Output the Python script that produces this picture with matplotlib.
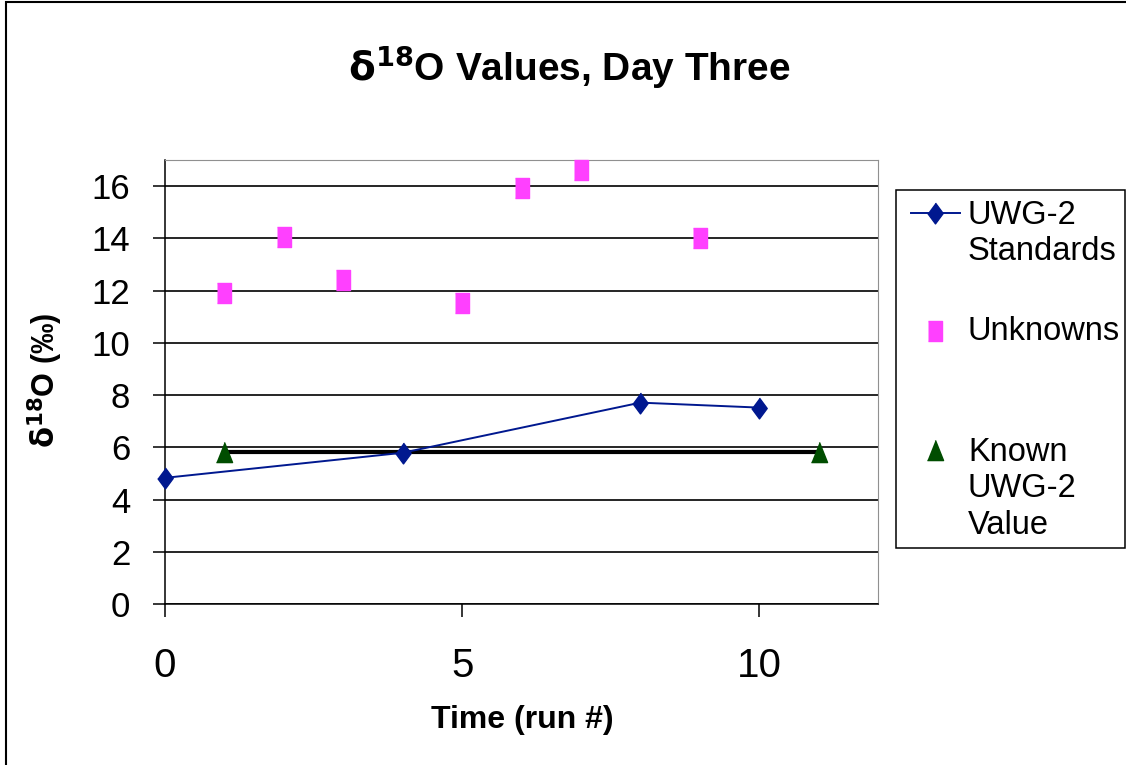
import matplotlib
matplotlib.use("Agg")
import matplotlib.pyplot as plt
from matplotlib.lines import Line2D
from matplotlib.patches import Rectangle

plt.rcParams['font.family'] = ['Liberation Sans', 'DejaVu Sans']

# dados
std_run = [0, 4, 8, 10]
std_val = [4.83, 5.79, 7.71, 7.52]

unk_run = [1, 2, 3, 5, 6, 7, 9]
unk_val = [11.9, 14.04, 12.39, 11.51, 15.92, 16.6, 14.0]

known_run = [1, 11]
known_val = [5.83, 5.83]

W, H = 1126, 765


def px(x, y):
    """pixel -> fracao da figura"""
    return x / W, 1 - y / H


# marcadores um pouco estreitos como no original
diamond = [(0, 0.5), (0.37, 0), (0, -0.5), (-0.37, 0)]
square = [(-0.37, -0.5), (0.37, -0.5), (0.37, 0.5), (-0.37, 0.5)]
triangle = [(0, 0.5), (0.4, -0.5), (-0.4, -0.5)]

navy = "#00188F"
pink = "#FF40FF"
green = "#004D00"
MS = 14.5

fig = plt.figure(figsize=(W / 100, H / 100), dpi=100)
ax = fig.add_axes([165 / W, 1 - 604 / H, (878 - 165) / W, (604 - 160) / H])

ax.plot(known_run, known_val, color="black", lw=3, zorder=3)
ax.plot(known_run, known_val, ls="none", marker=triangle, ms=MS,
        color=green, zorder=4, clip_on=False)
ax.plot(std_run, std_val, color=navy, lw=1.4, marker=diamond, ms=MS + 0.5,
        zorder=5, clip_on=False)
ax.plot(unk_run, unk_val, ls="none", marker=square, ms=MS, color=pink,
        zorder=5, clip_on=False)

ax.set_xlim(0, 12)
ax.set_ylim(0, 17)
ax.set_xticks([0, 5, 10])
ax.set_yticks(range(0, 17, 2))
ax.yaxis.grid(True, color="black", lw=1.2)
ax.set_axisbelow(True)
ax.tick_params(axis="y", length=9, width=1.1, pad=16, labelsize=25)
ax.tick_params(axis="x", length=9, width=1.1, pad=22, labelsize=29)
for s in ["top", "right"]:
    ax.spines[s].set_color("#909090")
for s in ["left", "bottom"]:
    ax.spines[s].set_linewidth(1.1)

fig.text(*px(569, 67), r"$\mathbf{\delta}^{\mathbf{18}}$O Values, Day Three",
         ha="center", va="center", fontsize=28, fontweight="bold")
fig.text(*px(522, 720), "Time (run #)", ha="center", va="center",
         fontsize=23, fontweight="bold")
fig.text(*px(45, 380), r"$\mathbf{\delta}^{\mathbf{18}}$O (‰)", ha="center",
         va="center", rotation=90, fontsize=22, fontweight="bold")

# legenda desenhada a mao
fig.add_artist(Rectangle(px(896, 548), (1125 - 896) / W, (548 - 190) / H,
                         transform=fig.transFigure, fill=False,
                         edgecolor="black", lw=1.1))
x0, x1 = px(911, 0)[0], px(960, 0)[0]
xm, xt = px(935, 0)[0], px(968, 0)[0]
y1, y2, y3 = px(0, 213)[1], px(0, 331)[1], px(0, 450)[1]
fig.add_artist(Line2D([x0, x1], [y1, y1], color=navy, lw=1.4,
                      transform=fig.transFigure))
fig.add_artist(Line2D([xm], [y1], marker=diamond, ms=MS + 0.5, color=navy,
                      transform=fig.transFigure))
fig.add_artist(Line2D([xm], [y2], marker=square, ms=MS, color=pink,
                      transform=fig.transFigure))
fig.add_artist(Line2D([xm], [y3], marker=triangle, ms=MS, color=green,
                      transform=fig.transFigure))
dy = 13 / H
fig.text(xt, y1 + dy, "UWG-2\nStandards", ha="left", va="top", fontsize=23.5,
         linespacing=1.22)
fig.text(xt, y2, "Unknowns", ha="left", va="center", fontsize=23.5)
fig.text(xt, y3 + dy, "Known\nUWG-2\nValue", ha="left", va="top",
         fontsize=23.5, linespacing=1.22)

# moldura da figura
fig.add_artist(Rectangle(px(6, 800), 2, (800 - 2) / H,
                         transform=fig.transFigure, fill=False,
                         edgecolor="black", lw=1.5))

fig.savefig("out.png", dpi=100)
